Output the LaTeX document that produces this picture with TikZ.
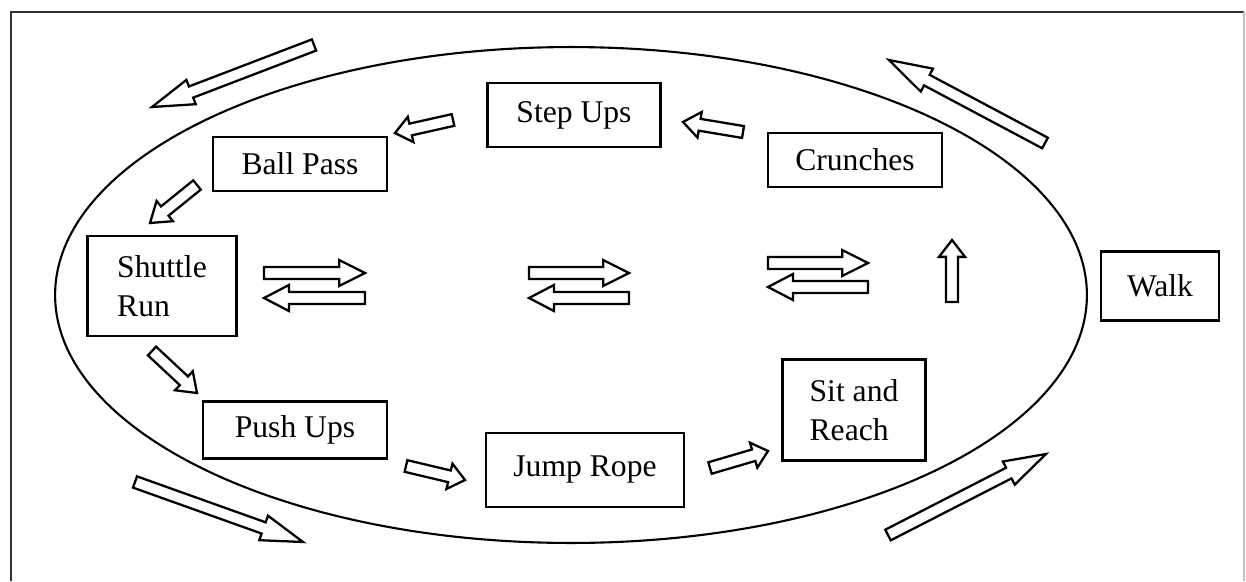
\documentclass[tikz,border=0pt]{standalone}
\usepackage{fontspec}
\setmainfont{Liberation Serif}
\usetikzlibrary{calc}
\newcommand\shaftw{3.4pt}
\newcommand\headw{7.4pt}
% block arrow: tail, tip, head length
\newcommand\blockarrow[3]{%
  \coordinate (ba-t) at #1;
  \coordinate (ba-p) at #2;
  \coordinate (ba-n) at ($(ba-p)!#3!(ba-t)$);
  \draw[arrowline] ($(ba-t)!\shaftw!90:(ba-p)$) -- ($(ba-n)!\shaftw!-90:(ba-t)$)
    -- ($(ba-n)!\headw!-90:(ba-t)$) -- (ba-p) -- ($(ba-n)!\headw!90:(ba-t)$)
    -- ($(ba-n)!\shaftw!90:(ba-t)$) -- ($(ba-t)!\shaftw!-90:(ba-p)$) -- cycle;
}
\begin{document}
\begin{tikzpicture}[x=0.02cm, y=-0.02cm,
   every node/.style = {font=\fontsize{18}{22.5}\selectfont},
         box/.style = {rectangle, draw, line width=1.4pt, inner sep=0pt},
   arrowline/.style = {draw, line width=1.3pt, line join=miter}
                    ]
\useasboundingbox (0,0) rectangle (1246,581);
% frame
\draw[line width=1.6pt, black!80] (11,581) -- (11,12) -- (1244,12);
\draw[line width=0.6pt, black!25] (1244,12) -- (1244,581);
% track
\draw[line width=1.2pt] (571,295) ellipse [x radius=10.32cm, y radius=4.96cm];
% stations
\node (stepups)  [box, minimum width=3.46cm, minimum height=1.28cm] at (574,115) {Step Ups};
\node (crunches) [box, minimum width=3.48cm, minimum height=1.08cm] at (855,160) {Crunches};
\node (ballpass) [box, minimum width=3.48cm, minimum height=1.08cm] at (300,164) {Ball Pass};
\node (shuttle)  [box, minimum width=2.98cm, minimum height=2.00cm, align=left] at (162,286) {Shuttle\\Run};
\node (pushups)  [box, minimum width=3.68cm, minimum height=1.14cm] at (295,430) {Push Ups};
\node (jumprope) [box, minimum width=3.96cm, minimum height=1.48cm] at (585,470) {Jump Rope};
\node (sitreach) [box, minimum width=2.86cm, minimum height=2.02cm, align=left] at (854,410) {Sit and\\Reach};
\node (walk)     [box, minimum width=2.36cm, minimum height=1.38cm] at (1160,286) {Walk};
% walking arrows round the track
\blockarrow{(314,45)}{(152,107)}{23.8pt}
\blockarrow{(1045,143)}{(889,60)}{24.4pt}
\blockarrow{(135,482)}{(303,542)}{23.8pt}
\blockarrow{(888,535)}{(1046,454)}{23.8pt}
% station arrows
\blockarrow{(453,120)}{(395,133)}{9.1pt}
\blockarrow{(743,132)}{(683,122)}{9.6pt}
\blockarrow{(197,185)}{(150,223)}{10.8pt}
\blockarrow{(152,351)}{(197,393)}{10.2pt}
\blockarrow{(406,466)}{(465,480)}{9.1pt}
\blockarrow{(710,468)}{(768,451)}{8.5pt}
\blockarrow{(952,302)}{(952,240)}{9.6pt}
% shuttle arrows
\foreach \xa/\xb/\ya/\yb in {264/365/273/298, 529/629/273/298, 768/868/263/287}{
  \blockarrow{(\xa,\ya)}{(\xb,\ya)}{14.7pt}
  \blockarrow{(\xb,\yb)}{(\xa,\yb)}{14.2pt}
}
\end{tikzpicture}
\end{document}
